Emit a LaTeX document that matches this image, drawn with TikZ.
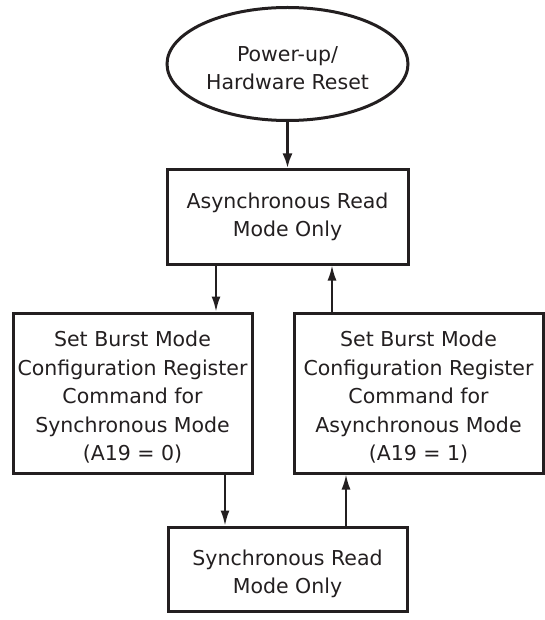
\documentclass[tikz,border=0pt]{standalone}
\usepackage{fontspec}
\setmainfont{DejaVu Sans}
\usetikzlibrary{shapes.geometric,arrows.meta}
\definecolor{ink}{HTML}{231F20}
\newcommand{\shiftlines}[2]{\raisebox{#1}[0pt][0pt]{\begin{tabular}{@{}c@{}}#2\end{tabular}}}
\tikzset{
  txt/.style={font=\fontsize{20.5}{28.5}\selectfont, align=center, text=ink, inner sep=0pt},
  box/.style={txt, draw=ink, line width=3pt, rectangle},
  oval/.style={txt, draw=ink, line width=3pt, ellipse},
  arr/.style={draw=ink, line width=2pt, -{Latex[length=15pt,width=9pt]}},
  thickarr/.style={draw=ink, line width=3pt, -{Latex[length=15pt,width=10pt]}},
}
\begin{document}
\begin{tikzpicture}[x=1pt,y=-1pt]
\useasboundingbox (0,0) rectangle (545,620);
\node[oval, minimum width=241pt, minimum height=113pt] (reset) at (287.5,64) {\shiftlines{-11pt}{Power-up/\\Hardware Reset}};
\node[box, minimum width=241pt, minimum height=94pt] (async) at (287.5,217) {\shiftlines{-5pt}{Asynchronous Read\\Mode Only}};
\node[box, minimum width=239pt, minimum height=160pt] (setsync) at (132.5,393) {\shiftlines{-10pt}{Set Burst Mode\\Configuration Register\\Command for\\Synchronous Mode\\(A19 = 0)}};
\node[box, minimum width=249pt, minimum height=160pt] (setasync) at (418.5,393) {\shiftlines{-10pt}{Set Burst Mode\\Configuration Register\\Command for\\Asynchronous Mode\\(A19 = 1)}};
\node[box, minimum width=239pt, minimum height=84pt] (sync) at (287.5,569) {\shiftlines{-10pt}{Synchronous Read\\Mode Only}};
\coordinate (xa) at (216,0);
\coordinate (xb) at (332,0);
\coordinate (xc) at (225,0);
\coordinate (xd) at (346,0);
\draw[thickarr] (reset.south) -- (async.north);
\draw[arr] (async.south -| xa) -- (setsync.north -| xa);
\draw[arr] (setasync.north -| xb) -- (async.south -| xb);
\draw[arr] (setsync.south -| xc) -- (sync.north -| xc);
\draw[arr] (sync.north -| xd) -- (setasync.south -| xd);
\end{tikzpicture}
\end{document}
